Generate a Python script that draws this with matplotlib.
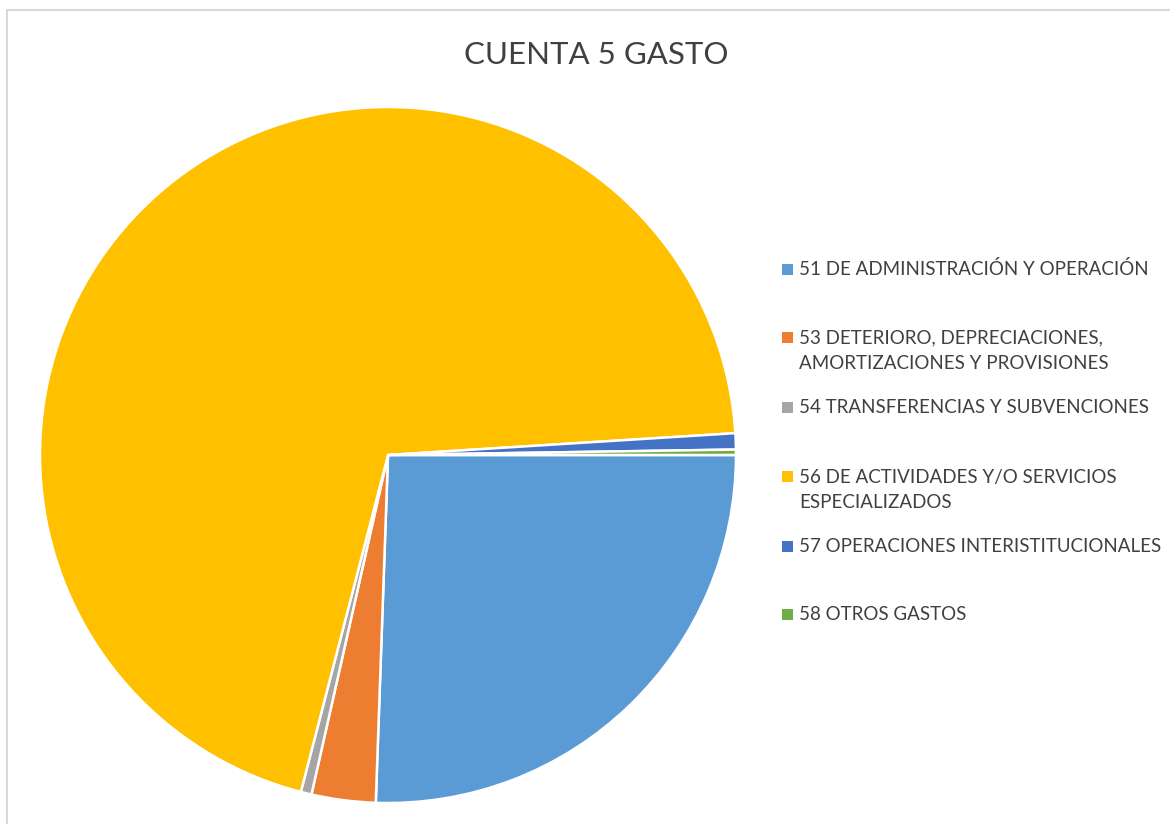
import matplotlib
matplotlib.use('Agg')
import matplotlib.pyplot as plt
from matplotlib.patches import Rectangle

# data (share of total, %)
labels = ['51 DE ADMINISTRACIÓN Y OPERACIÓN',
          '53 DETERIORO, DEPRECIACIONES,\nAMORTIZACIONES Y PROVISIONES',
          '54 TRANSFERENCIAS Y SUBVENCIONES',
          '56 DE ACTIVIDADES Y/O SERVICIOS\nESPECIALIZADOS',
          '57 OPERACIONES INTERISTITUCIONALES',
          '58 OTROS GASTOS']
values = [25.56, 2.97, 0.50, 69.97, 0.75, 0.25]
colors = ['#5B9BD5', '#ED7D31', '#A5A5A5', '#FFC000', '#4472C4', '#70AD47']

# legend text centre rows (pixels from top) as in the reference
legend_y = [269, 351, 407, 490, 546, 614]

W, H = 1170, 824
font = 'Lato'
txt_color = '#404040'

fig = plt.figure(figsize=(W/100, H/100), dpi=100)
fig.patch.set_facecolor('white')

# chart area border (only left and top visible)
fig.patches.append(Rectangle((7/W, -0.1), 1.2, (H-10)/H + 0.1, transform=fig.transFigure,
                             fill=False, edgecolor='#D9D9D9', lw=1.5))

cx, cy, r = 388, 455, 348
ax = fig.add_axes([(cx-r)/W, (H-cy-r)/H, 2*r/W, 2*r/H])
ax.pie(values, colors=colors, startangle=0, counterclock=False, radius=1,
       wedgeprops=dict(edgecolor='white', linewidth=1.8))
ax.set_xlim(-1, 1)
ax.set_ylim(-1, 1)
ax.set_aspect('equal')
ax.axis('off')

fig.text(596/W, 1 - 55/H, 'CUENTA 5 GASTO', ha='center', va='center',
         fontsize=22.5, color=txt_color, family=font)

for lab, col, y in zip(labels, colors, legend_y):
    nlines = lab.count('\n') + 1
    y_first = y - (nlines - 1) * 14
    fig.patches.append(Rectangle((782/W, 1 - (y_first+6)/H), 11/W, 11/H,
                                 transform=fig.transFigure, facecolor=col, edgecolor='none'))
    fig.text(799/W, 1 - y/H, lab, ha='left', va='center', fontsize=13.5,
             color=txt_color, family=font, linespacing=1.6)

fig.savefig('out.png', dpi=100)
